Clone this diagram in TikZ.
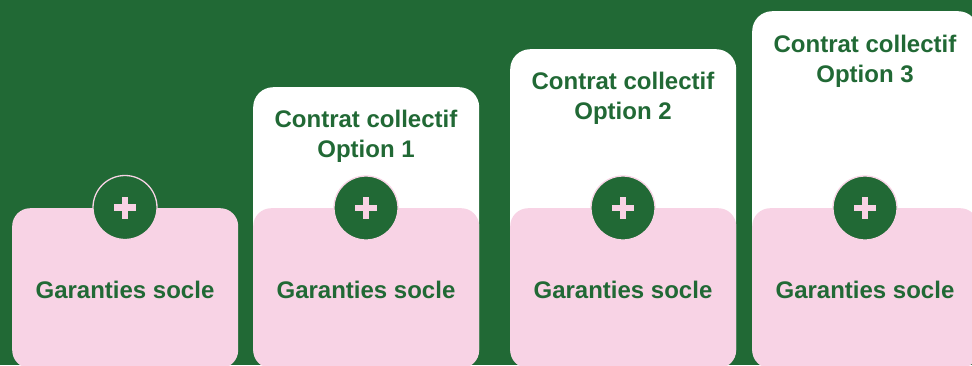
\documentclass[tikz,border=0pt]{standalone}
\usepackage{fontspec}
\setmainfont{Liberation Sans}
\definecolor{bggreen}{RGB}{33,105,53}
\definecolor{softpink}{RGB}{248,211,229}
\tikzset{
  whitebox/.style={fill=white, rounded corners=20pt, anchor=north west, minimum width=226pt, inner sep=0pt, draw=none},
  pinkbox/.style={fill=softpink, rounded corners=18pt, anchor=north west, minimum width=226pt, minimum height=160pt, inner sep=0pt, draw=none},
  plusdisc/.style={circle, fill=bggreen, draw=softpink, line width=1.3pt, minimum size=64pt, inner sep=0pt},
  lbl/.style={text=bggreen, font=\fontsize{24}{30}\selectfont\bfseries, anchor=base, inner sep=0pt},
}
\newcommand{\plusmark}[1]{%
  \fill[softpink] ([xshift=-11pt,yshift=-3.2pt]#1) rectangle ([xshift=11pt,yshift=3.2pt]#1);
  \fill[softpink] ([xshift=-3.2pt,yshift=-11pt]#1) rectangle ([xshift=3.2pt,yshift=11pt]#1);}
\begin{document}
\begin{tikzpicture}[x=1pt,y=-1pt]
\useasboundingbox (0,0) rectangle (972,365);
\clip (0,0) rectangle (972,365);
\fill[bggreen] (0,0) rectangle (972,365);
% white boxes (bottom at 368, same as pink boxes)
\node[whitebox, minimum height=281pt] (w2) at (253,87) {};
\node[whitebox, minimum height=319pt] (w3) at (510,49) {};
\node[whitebox, minimum height=357pt] (w4) at (752,11) {};
% pink boxes
\node[pinkbox] (p1) at (12,208) {};
\node[pinkbox] (p2) at (253,208) {};
\node[pinkbox] (p3) at (510,208) {};
\node[pinkbox] (p4) at (752,208) {};
% discs
\node[plusdisc] (c1) at (125,207.5) {};
\node[plusdisc] (c2) at (366,208) {};
\node[plusdisc] (c3) at (623,208) {};
\node[plusdisc] (c4) at (865,208) {};
\plusmark{c1}\plusmark{c2}\plusmark{c3}\plusmark{c4}
% labels
\node[lbl] (g1) at (125,298) {Garanties socle};
\node[lbl] (g2) at (366,298) {Garanties socle};
\node[lbl] (g3) at (623,298) {Garanties socle};
\node[lbl] (g4) at (865,298) {Garanties socle};
\node[lbl] (t2a) at (366,127) {Contrat collectif};
\node[lbl] (t2b) at (366,157) {Option 1};
\node[lbl] (t3a) at (623,89) {Contrat collectif};
\node[lbl] (t3b) at (623,119) {Option 2};
\node[lbl] (t4a) at (865,52) {Contrat collectif};
\node[lbl] (t4b) at (865,82) {Option 3};
\end{tikzpicture}
\end{document}
